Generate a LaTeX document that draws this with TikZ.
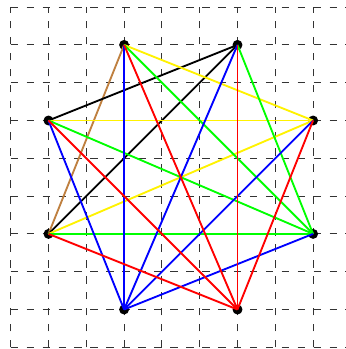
\documentclass[tikz,border=0pt]{standalone}
\begin{document}
\begin{tikzpicture}[
  dot/.style={circle,fill=black,inner sep=0pt,minimum size=7.5pt},
  edge/.style={line width=1.4pt},
  gridline/.style={dash pattern=on 5.7pt off 6.3pt,line width=0.6pt,black!80}
]
\useasboundingbox (-0.283,-0.045) rectangle (8.870,9.188);
\begin{scope}
\clip (-0.283,-0.045) rectangle (8.870,9.188);
\draw[gridline] (0,0) grid (9,9);
\end{scope}
\node[dot] (A) at (3,8) {};
\node[dot] (B) at (6,8) {};
\node[dot] (C) at (1,6) {};
\node[dot] (D) at (8,6) {};
\node[dot] (E) at (1,3) {};
\node[dot] (F) at (8,3) {};
\node[dot] (G) at (3,1) {};
\node[dot] (H) at (6,1) {};
% brown
\draw[edge,brown] (A.center) -- (E.center);
% black
\draw[edge,black] (B.center) -- (C.center);
\draw[edge,black] (B.center) -- (E.center);
% yellow
\draw[edge,yellow] (A.center) -- (D.center);
\draw[edge,yellow] (C.center) -- (D.center);
\draw[edge,yellow] (E.center) -- (D.center);
% green
\draw[edge,green] (A.center) -- (F.center);
\draw[edge,green] (B.center) -- (F.center);
\draw[edge,green] (C.center) -- (F.center);
\draw[edge,green] (E.center) -- (F.center);
% blue
\draw[edge,blue] (G.center) -- (A.center);
\draw[edge,blue] (G.center) -- (B.center);
\draw[edge,blue] (G.center) -- (C.center);
\draw[edge,blue] (G.center) -- (D.center);
\draw[edge,blue] (G.center) -- (F.center);
% red
\draw[edge,red] (H.center) -- (A.center);
\draw[edge,red] (H.center) -- (B.center);
\draw[edge,red] (H.center) -- (C.center);
\draw[edge,red] (H.center) -- (D.center);
\draw[edge,red] (H.center) -- (E.center);
\end{tikzpicture}
\end{document}
